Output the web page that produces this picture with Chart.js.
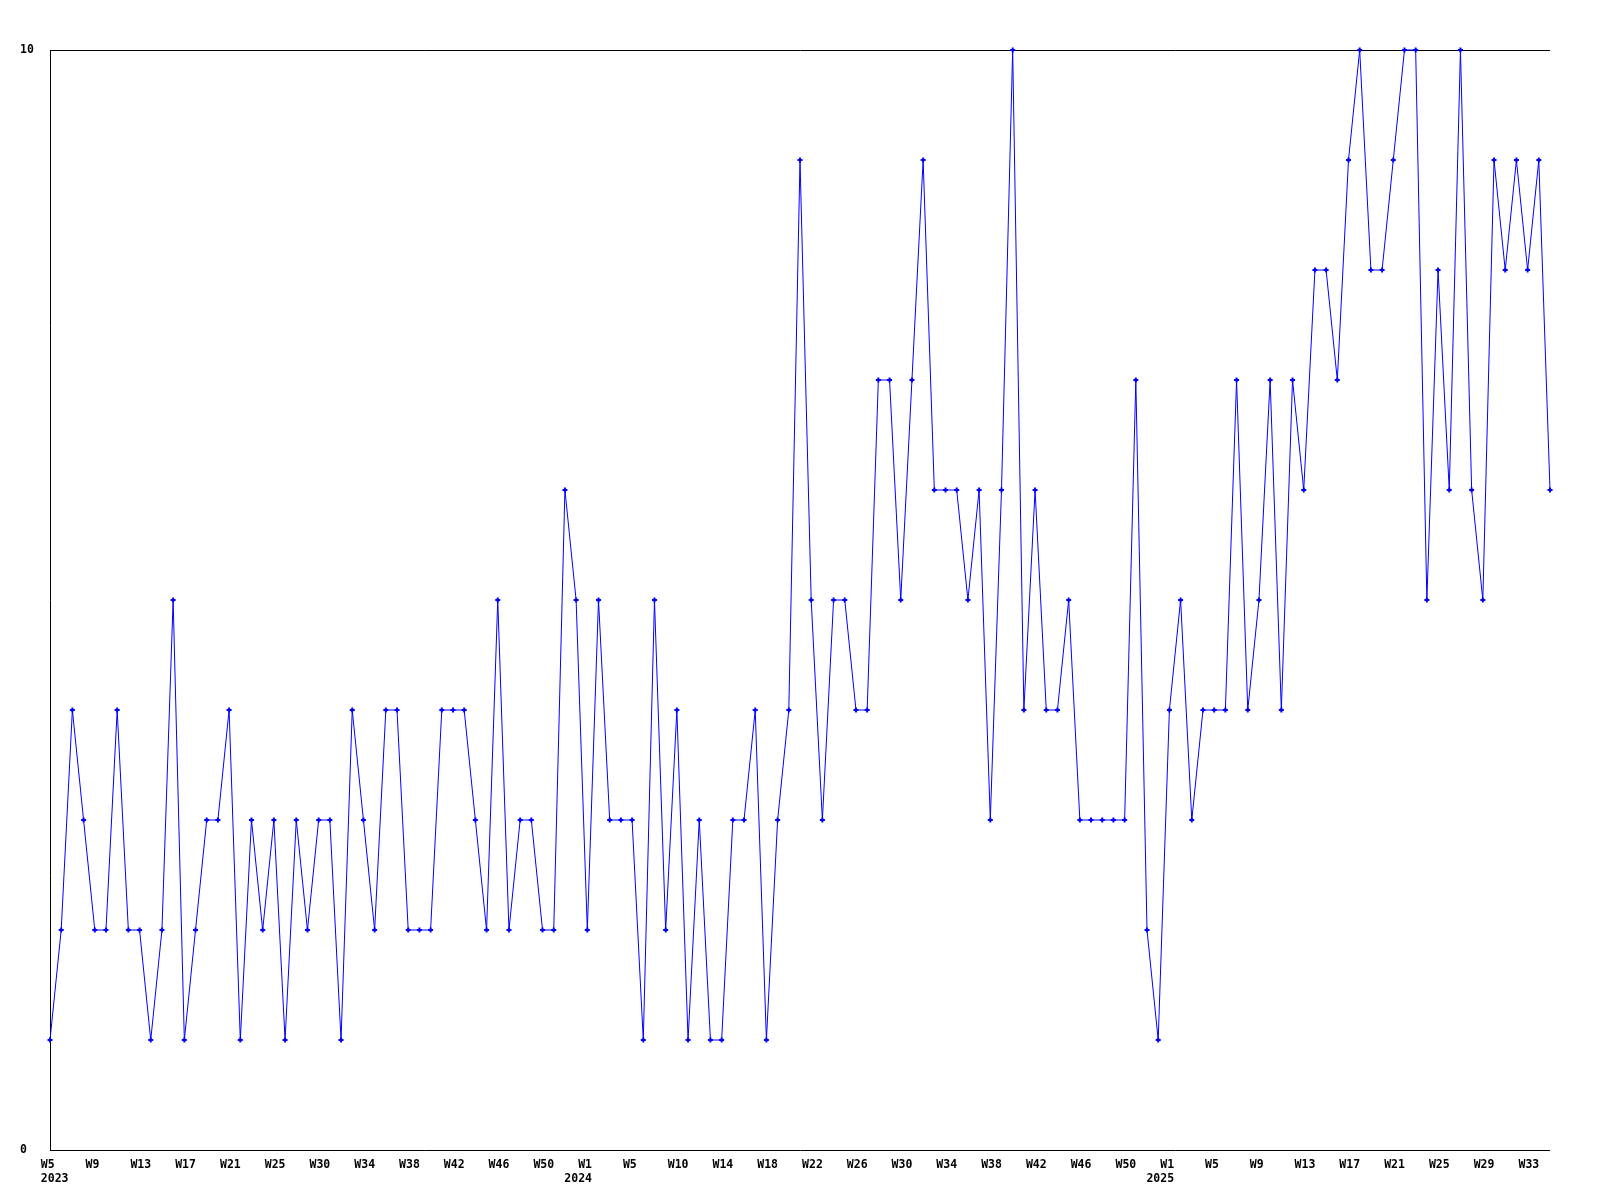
<!DOCTYPE html>
<html>
<head>
<meta charset="utf-8">
<script src="https://cdn.jsdelivr.net/npm/chart.js@4/dist/chart.umd.min.js"></script>
<style>
  html, body { margin: 0; padding: 0; background: #fff; }
  #wrap { width: 1600px; height: 1200px; }
</style>
</head>
<body>
<div id="wrap"><canvas id="line-chart" width="1600" height="1200"></canvas></div>
<script>
// ISO weeks covered: [year, first week, last week]
const weekRanges = [[2023, 5, 52], [2024, 1, 52], [2025, 1, 35]];

const categories = [];
weekRanges.forEach(function (r) {
    for (let w = r[1]; w <= r[2]; w++) categories.push(r[0] + '-W' + w);
});

const counts = [
    1, 2, 4, 3, 2, 2, 4, 2, 2, 1, 2, 5, 1, 2, 3, 3, 4, 1, 3, 2,
    3, 1, 3, 2, 3, 3, 1, 4, 3, 2, 4, 4, 2, 2, 2, 4, 4, 4, 3, 2,
    5, 2, 3, 3, 2, 2, 6, 5, 2, 5, 3, 3, 3, 1, 5, 2, 4, 1, 3, 1,
    1, 3, 3, 4, 1, 3, 4, 9, 5, 3, 5, 5, 4, 4, 7, 7, 5, 7, 9, 6,
    6, 6, 5, 6, 3, 6, 10, 4, 6, 4, 4, 5, 3, 3, 3, 3, 3, 7, 2, 1,
    4, 5, 3, 4, 4, 4, 7, 4, 5, 7, 4, 7, 6, 8, 8, 7, 9, 10, 8, 8,
    9, 10, 10, 5, 8, 6, 10, 6, 5, 9, 8, 9, 8, 9, 6
];

// axis labels, one every 4th week, as printed on the original chart
const tickEvery = 4;
const tickLabels = [
    ['W5', '2023'], 'W9', 'W13', 'W17', 'W21', 'W25', 'W30', 'W34', 'W38', 'W42', 'W46', 'W50',
    ['W1', '2024'], 'W5', 'W10', 'W14', 'W18', 'W22', 'W26', 'W30', 'W34', 'W38', 'W42', 'W46', 'W50',
    ['W1', '2025'], 'W5', 'W9', 'W13', 'W17', 'W21', 'W25', 'W29', 'W33'
];

const yTicks = [0, 10];

const tickFont = { family: 'DejaVu Sans Mono', size: 11.5, weight: 'bold', lineHeight: 1.2 };
const pad = '  ';  // week text sits a bit right of the year text

new Chart(document.getElementById('line-chart'), {
    type: 'line',
    data: {
        labels: categories,
        datasets: [{
            data: counts,
            label: '',
            borderColor: '#0000ff',
            backgroundColor: '#0000ff',
            borderWidth: 1,
            fill: false,
            tension: 0,
            pointStyle: 'cross',
            pointRadius: 2.5,
            pointBorderWidth: 2,
            pointBorderColor: '#0000ff',
            clip: false
        }]
    },
    options: {
        responsive: false,
        animation: false,
        devicePixelRatio: 1,
        layout: { padding: { top: 50, right: 50, left: 20, bottom: 0 } },
        plugins: {
            legend: { display: false },
            title: { display: false },
            tooltip: { enabled: false }
        },
        scales: {
            x: {
                grid: { display: false },
                border: { display: false },
                ticks: {
                    autoSkip: false,
                    maxRotation: 0,
                    minRotation: 0,
                    align: 'start',
                    labelOffset: -23,
                    padding: 0,
                    color: '#000',
                    font: tickFont,
                    callback: function (value, index) {
                        if (index % tickEvery !== 0) return null;
                        const lab = tickLabels[index / tickEvery];
                        if (Array.isArray(lab)) {
                            return [pad + lab[0], (index === 0 ? pad : '') + lab[1]];
                        }
                        return pad + lab;
                    }
                },
                afterFit: function (scale) { scale.height = 50; }
            },
            y: {
                min: 0,
                max: 10,
                afterBuildTicks: function (scale) {
                    scale.ticks = yTicks.map(function (v) { return { value: v }; });
                },
                grid: { color: '#000', lineWidth: 1, drawTicks: false },
                border: { display: true, color: '#000', width: 1 },
                ticks: {
                    crossAlign: 'far',
                    padding: 0,
                    color: '#000',
                    font: tickFont
                },
                afterFit: function (scale) { scale.width = 30; }
            }
        }
    }
});
</script>
</body>
</html>
